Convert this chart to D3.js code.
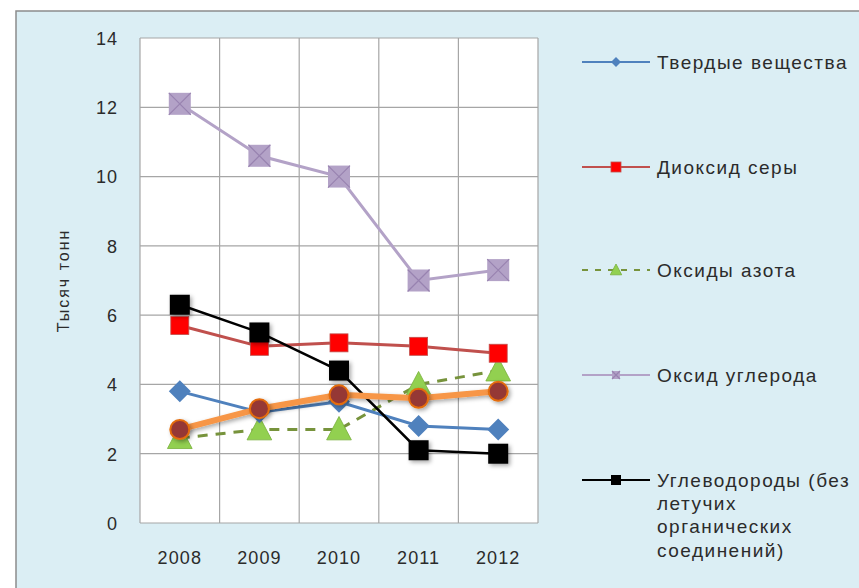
<!DOCTYPE html>
<html>
<head>
<meta charset="utf-8">
<script src="https://cdn.jsdelivr.net/npm/d3@7"></script>
<style>
  body { margin: 0; background: #fff; }
  text { font-family: "Liberation Sans", Arial, sans-serif; fill: #2b2b2b; }
</style>
</head>
<body>
<div id="VizBox"></div>
<script>
var years = ["2008", "2009", "2010", "2011", "2012"];
var yTicks = [0, 2, 4, 6, 8, 10, 12, 14];

var tverdye = [3.8, 3.2, 3.5, 2.8, 2.7];
var dioksid = [5.7, 5.1, 5.2, 5.1, 4.9];
var azot = [2.45, 2.7, 2.7, 4.0, 4.4];
var ugleroda = [12.1, 10.6, 10.0, 7.0, 7.3];
var uglevodorody = [6.3, 5.5, 4.4, 2.1, 2.0];
var prochie = [2.7, 3.3, 3.7, 3.6, 3.8];

var seriesNames = ["Твердые вещества", "Диоксид серы", "Оксиды азота", "Оксид углерода",
                   "Углеводороды (без летучих органических соединений)"];

var W = 859, H = 588;
var margin = {top: 38, left: 140, right: 321, bottom: 65};
var width = W - margin.left - margin.right;
var height = H - margin.top - margin.bottom;

var svg = d3.select("#VizBox").append("svg")
  .attr("width", W).attr("height", H);

var defs = svg.append("defs");
var f = defs.append("filter").attr("id", "shadow").attr("x", "-50%").attr("y", "-50%")
  .attr("width", "200%").attr("height", "200%");
f.append("feDropShadow").attr("dx", 2).attr("dy", 2).attr("stdDeviation", 2)
  .attr("flood-color", "#000").attr("flood-opacity", 0.35);

// chart area background
svg.append("rect").attr("x", 16).attr("y", 11).attr("width", W).attr("height", H)
  .attr("fill", "#DBEEF4").attr("stroke", "#8c8c8c").attr("stroke-width", 1.5);

var g = svg.append("g").attr("transform", "translate(" + margin.left + "," + margin.top + ")");

var x = d3.scaleBand().domain(years).range([0, width]);
var y = d3.scaleLinear().domain([0, 14]).range([height, 0]);

g.append("rect").attr("width", width).attr("height", height).attr("fill", "#fff");

// grid
g.selectAll(".hgrid").data(yTicks).enter().append("line")
  .attr("x1", 0).attr("x2", width)
  .attr("y1", function(d) { return y(d); }).attr("y2", function(d) { return y(d); })
  .attr("stroke", "#a6a6a6").attr("stroke-width", 1.2);
var bounds = years.map(function(d) { return x(d); }).concat([width]);
g.selectAll(".vgrid").data(bounds).enter().append("line")
  .attr("x1", function(d) { return d; }).attr("x2", function(d) { return d; })
  .attr("y1", 0).attr("y2", height)
  .attr("stroke", "#a6a6a6").attr("stroke-width", 1.2);

// axes
var yAxis = g.append("g").call(d3.axisLeft(y).tickValues(yTicks).tickSize(0).tickPadding(22));
yAxis.select(".domain").remove();
yAxis.selectAll("text").style("font-size", "18px").style("letter-spacing", "1px").attr("dy", "0.35em");

var xAxis = g.append("g").attr("transform", "translate(0," + height + ")")
  .call(d3.axisBottom(x).tickSize(0).tickPadding(28));
xAxis.select(".domain").remove();
xAxis.selectAll("text").style("font-size", "18px").style("letter-spacing", "1.1px");

svg.append("text").attr("transform", "translate(69," + (margin.top + height / 2) + ") rotate(-90)")
  .attr("text-anchor", "middle").style("font-size", "16px").style("letter-spacing", "2px")
  .text("Тысяч тонн");

var cx = function(i) { return x(years[i]) + x.bandwidth() / 2; };
var line = d3.line().x(function(d, i) { return cx(i); }).y(function(d) { return y(d); });

function marker(sel, type, size) {
  if (type === "diamond") {
    sel.append("path").attr("d", "M0,-" + size + "L" + size + ",0L0," + size + "L-" + size + ",0Z")
      .attr("fill", "#4F81BD");
  } else if (type === "redsq") {
    sel.append("rect").attr("x", -size).attr("y", -size).attr("width", size * 2).attr("height", size * 2)
      .attr("fill", "#FF0000").attr("stroke", "#C0504D").attr("stroke-width", 0.8);
  } else if (type === "tri") {
    sel.append("path").attr("d", "M0,-" + size + "L" + (size * 0.95) + "," + (size * 0.8) + "L-" + (size * 0.95) + "," + (size * 0.8) + "Z")
      .attr("fill", "#92D050").attr("stroke", "#77B03A").attr("stroke-width", 0.8);
  } else if (type === "xsq") {
    sel.append("rect").attr("x", -size).attr("y", -size).attr("width", size * 2).attr("height", size * 2)
      .attr("fill", "#B3A2C7");
    sel.append("path").attr("d", "M-" + size + ",-" + size + "L" + size + "," + size + "M" + size + ",-" + size + "L-" + size + "," + size)
      .attr("stroke", "#9883B0").attr("stroke-width", 1.2);
  } else if (type === "blacksq") {
    sel.append("rect").attr("x", -size).attr("y", -size).attr("width", size * 2).attr("height", size * 2)
      .attr("fill", "#000").attr("filter", "url(#shadow)");
  } else if (type === "circle") {
    sel.append("circle").attr("r", size).attr("fill", "#953735")
      .attr("stroke", "#E46C0A").attr("stroke-width", 2).attr("filter", "url(#shadow)");
  }
}

var series = [
  {data: azot, color: "#77933C", width: 3, dash: "10,8", marker: "tri", size: 13},
  {data: tverdye, color: "#4F81BD", width: 3, marker: "diamond", size: 11},
  {data: dioksid, color: "#C0504D", width: 3, marker: "redsq", size: 9},
  {data: ugleroda, color: "#B3A2C7", width: 3, marker: "xsq", size: 11},
  {data: uglevodorody, color: "#000", width: 2.5, marker: "blacksq", size: 10},
  {data: prochie, color: "#F79646", width: 6, marker: "circle", size: 9.5, shadow: true}
];

series.forEach(function(s) {
  var sg = g.append("g");
  sg.append("path").datum(s.data).attr("d", line)
    .attr("fill", "none").attr("stroke", s.color).attr("stroke-width", s.width)
    .attr("stroke-dasharray", s.dash || null)
    .attr("filter", s.shadow ? "url(#shadow)" : null);
  s.data.forEach(function(v, i) {
    var m = sg.append("g").attr("transform", "translate(" + cx(i) + "," + y(v) + ")");
    marker(m, s.marker, s.size);
  });
});

// legend
var legend = [
  {lines: ["Твердые вещества"], color: "#4F81BD", marker: "diamond", size: 5, y: 62},
  {lines: ["Диоксид серы"], color: "#C0504D", marker: "redsq", size: 5, y: 167},
  {lines: ["Оксиды азота"], color: "#77933C", dash: "6,7", marker: "tri", size: 6, y: 270},
  {lines: ["Оксид углерода"], color: "#B3A2C7", marker: "xsq", size: 4, y: 375},
  {lines: ["Углеводороды (без", "летучих", "органических", "соединений)"], color: "#000", marker: "blacksq", size: 5, y: 480}
];
legend.forEach(function(l) {
  var lg = svg.append("g").attr("transform", "translate(0," + l.y + ")");
  lg.append("line").attr("x1", 582).attr("x2", 650).attr("y1", 0).attr("y2", 0)
    .attr("stroke", l.color).attr("stroke-width", 2.2).attr("stroke-dasharray", l.dash || null);
  var m = lg.append("g").attr("transform", "translate(616,0)");
  if (l.marker === "blacksq") {
    m.append("rect").attr("x", -5).attr("y", -5).attr("width", 10).attr("height", 10).attr("fill", "#000");
  } else {
    marker(m, l.marker, l.size);
  }
  l.lines.forEach(function(t, i) {
    lg.append("text").attr("x", 657).attr("y", i * 23.3).attr("dy", "0.35em")
      .style("font-size", "19px").style("letter-spacing", "1.5px").text(t);
  });
});
</script>
</body>
</html>
